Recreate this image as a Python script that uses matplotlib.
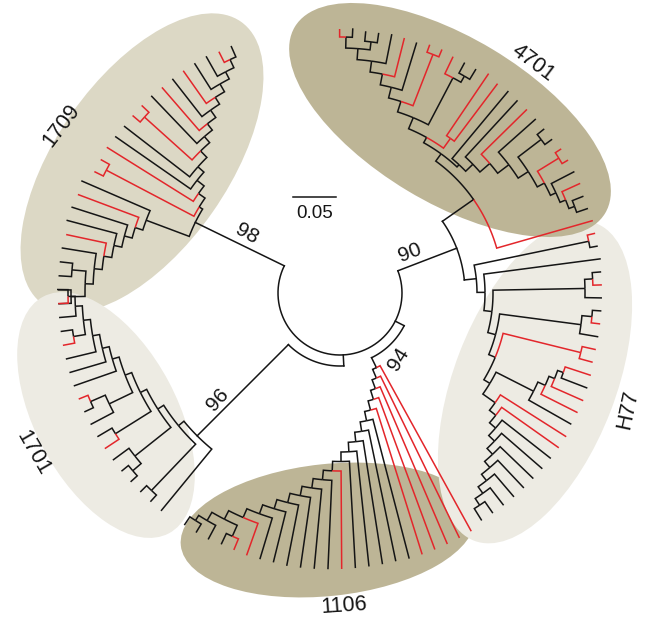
import numpy as np
import matplotlib.pyplot as plt
from matplotlib.patches import Ellipse

plt.rcParams['font.family'] = ['Liberation Sans', 'DejaVu Sans']

W, H = 645, 622
CENTER = (340, 329)        # centre of the circular tree on the canvas
RMAX = 300
STEP = 2.85                # degrees between neighbouring tips
RED, BLACK = '#e3262b', '#151515'
LW = 1.1

# branch lengths are in drawing units (1 unit = 1 px); the 0.05 bar is 43 units
BAR_UNITS = 43
BAR_TEXT = "0.05"


def ladder(rungs, steps, deeper_first=True):
    """Caterpillar subtree: rungs hang off the spine from its base outwards,
    the last two share the outermost node; steps are the spine internodes."""
    a, b = rungs[-1], rungs[-2]
    node = f"({a},{b})" if deeper_first else f"({b},{a})"
    for rung, step in zip(rungs[-3::-1], steps[::-1]):
        node = f"({node}:{step},{rung})" if deeper_first else f"({rung},{node}:{step})"
    return node


# ---- clade 1709
up_1709 = ladder(["(r:10,r:10):99", "r:102", "k:92", "k:83", "(r:10,r:10):64", "k:66",
                  "r:57", "k:48", "r:40", "k:31", "k:23", "r:12", "k:12"],
                 [8, 9, 8, 9, 8, 8, 9, 8, 9, 8, 9])
low_1709 = ladder(["k:75", "r:65", "k:59", "k:52", "r:41", "k:35",
                   "(k:13,k:13):14", "(k:13,k:13):14"],
                  [8, 8, 8, 8, 8, 8], deeper_first=False)
tree_1709 = f"({up_1709}:4,{low_1709}:46)"

# ---- clade 1701
tree_1701 = ladder(["k:80", "(k:9,k:9):64", "(k:20,(k:9,k:9):11):46", "(k:17,r:17):42",
                    "((r:10,k:10):16,k:26):26", "k:45", "k:38", "k:31", "(k:12,r:12):12",
                    "k:17", "r:10", "k:11"],
                   [7, 7, 7, 7, 7, 7, 7, 7, 7, 7])

# ---- clade 1106
tree_1106 = ladder(["r:189", "r:180", "r:171", "r:162", "r:153", "k:144", "k:134", "k:125",
                    "k:116", "k:107", "r:98", "k:89", "k:80", "k:71", "k:62", "k:52", "k:43",
                    "r:34", "(k:12,r:12):12", "k:16", "(k:10,k:10):6"],
                   [9.5, 9.5, 9.5, 9.5, 9.5, 9.5, 9.5, 9.5, 9.5, 9.5,
                    9.5, 9.5, 9.5, 9.5, 9.5, 9.5, 9.5, 9.5, 9.5])

# ---- clade H77
sub_h77 = ladder(["k:49", "r:41", "r:35", "k:28", "r:27"], [8, 6, 6], deeper_first=False)
low_h77 = ladder(["r:78", "r:70", "k:62", "k:54", "k:46", "k:38", "k:30", "k:22", "k:14", "k:14"],
                 [8, 8, 8, 8, 8, 8, 8, 8])
tree_h77 = ladder(["(k:8,r:8):117", "k:118", "(k:17,(r:9,k:9):8):92",
                   "(k:19,(r:9,k:9):10):82", "(r:14,r:14):80",
                   f"{sub_h77}:42", f"{low_h77}:15"],
                  [8, 8, 8, 7, 7])

# ---- clade 4701
right_4701 = ladder(["k:88", "k:77", "r:64", "k:50", "(k:9,k:9):29", "(r:7,r:7):25",
                     "k:26", "r:20", "k:12", "k:12"],
                    [10, 13, 14, 12, 8, 6, 6, 6])
left_4701 = ladder(["(r:72,r:75):12", "((k:12,k:12):7,r:19):53", "(r:8,r:8):55", "k:50",
                    "r:40", "k:30", "(k:10,k:10):8", "k:9", "r:8"],
                   [12, 11, 11, 11, 11, 11, 11], deeper_first=False)
tree_4701 = f"(r:100,({right_4701}:3,{left_4701}:6):9)"

# ---- backbone near the root
ROOT_R = 62
ROOT_ARC = (154, 381)
HUB_NAMES = ["A", "B", "D"]
HUB_ANGLE = [273, 333, 21]
HUB_R = [73, 72, 125]
HUB_ARC = [(225, 273), (296, 333), (6, 35)]

CLADE_TREES = [tree_1709, tree_1701, tree_1106, tree_h77, tree_4701]
CLADE_PARENT = ["root", "A", "B", "D", "D"]
CLADE_ANGLE = [154, 225, 296, 6, 35]
CLADE_ROOT_R = [161, 202, 83, 137, 163]

# highlight ellipses: centre, width, height, angle, colour
CLADE_NAMES = ["1709", "1701", "1106", "H77", "4701"]
ELL_XY = [(142, 459), (106, 207), (328, 92), (535, 240), (450, 502)]
ELL_WH = [(345, 172), (268, 142), (296, 132), (340, 162), (362, 165)]
ELL_ANG = [55, -62, 6, 69, -31]
ELL_COL = ['#dcd8c5', '#edebe3', '#bdb596', '#edebe3', '#bdb596']
NAME_XY = [(61, 496), (33, 169), (344, 16), (628, 212), (533, 559)]
NAME_ROT = [53, -60, 4, 78, -37]

SUPPORT = ["98", "96", "94", "90"]
SUPPORT_XY = [(247, 388), (218, 222), (398, 263), (410, 369)]
SUPPORT_ROT = [-29, 48, 58, 21]


def parse(s):
    pos = 0

    def node():
        nonlocal pos
        n = {'kids': [], 'len': 0.0, 'label': ''}
        if s[pos] == '(':
            pos += 1
            n['kids'].append(node())
            while s[pos] == ',':
                pos += 1
                n['kids'].append(node())
            pos += 1
        start = pos
        while pos < len(s) and s[pos] not in ':,)':
            pos += 1
        n['label'] = s[start:pos]
        if pos < len(s) and s[pos] == ':':
            pos += 1
            start = pos
            while pos < len(s) and s[pos] not in ',)':
                pos += 1
            n['len'] = float(s[start:pos])
        return n

    return node()


def place(n, r, counter):
    n['r'] = r
    if not n['kids']:
        n['slot'] = counter[0]
        counter[0] += 1
        n['red'] = n['label'] == 'r'
        return
    for k in n['kids']:
        place(k, r + k['len'], counter)
    n['slot'] = (n['kids'][0]['slot'] + n['kids'][-1]['slot']) / 2
    n['red'] = all(k['red'] for k in n['kids'])


def set_angle(n, offset):
    n['th'] = offset + n['slot'] * STEP
    for k in n['kids']:
        set_angle(k, offset)


def arc(th0, th1, r):
    num = max(2, int(abs(th1 - th0) / 0.5) + 2)
    t = np.linspace(th0, th1, num)
    return np.radians(t), np.full(num, float(r))


def draw(ax, n):
    for k in n['kids']:
        t, rr = arc(n['th'], k['th'], n['r'])
        t = np.append(t, np.radians(k['th']))
        rr = np.append(rr, k['r'])
        ax.plot(t, rr, color=RED if k['red'] else BLACK, lw=LW,
                solid_joinstyle='miter', solid_capstyle='butt')
        draw(ax, k)


fig = plt.figure(figsize=(W / 100, H / 100), dpi=100)
bg = fig.add_axes([0, 0, 1, 1])
bg.set_xlim(0, W)
bg.set_ylim(0, H)
bg.axis('off')

for xy, wh, ang, col in zip(ELL_XY, ELL_WH, ELL_ANG, ELL_COL):
    bg.add_patch(Ellipse(xy, wh[0], wh[1], angle=ang, facecolor=col,
                         edgecolor='none', zorder=0))

for name, xy, rot in zip(CLADE_NAMES, NAME_XY, NAME_ROT):
    bg.text(xy[0], xy[1], name, rotation=rot, rotation_mode='anchor',
            ha='center', va='center', fontsize=15.5, color=BLACK)
for lab, xy, rot in zip(SUPPORT, SUPPORT_XY, SUPPORT_ROT):
    bg.text(xy[0], xy[1], lab, rotation=rot, rotation_mode='anchor',
            ha='center', va='center', fontsize=15, color=BLACK)

# scale bar
bg.plot([293, 293 + BAR_UNITS], [425, 425], color=BLACK, lw=LW)
bg.text(293 + BAR_UNITS / 2, 409, BAR_TEXT, ha='center', va='center',
        fontsize=13.5, color=BLACK)

pax = fig.add_axes([(CENTER[0] - RMAX) / W, (CENTER[1] - RMAX) / H,
                    2 * RMAX / W, 2 * RMAX / H], projection='polar')
pax.set_ylim(0, RMAX)
pax.axis('off')
pax.patch.set_visible(False)

# root arc and the short internal hubs
t, rr = arc(*ROOT_ARC, ROOT_R)
pax.plot(t, rr, color=BLACK, lw=LW)
hub_r = {"root": ROOT_R}
for name, ang, r, span in zip(HUB_NAMES, HUB_ANGLE, HUB_R, HUB_ARC):
    pax.plot(np.radians([ang, ang]), [ROOT_R, r], color=BLACK, lw=LW)
    t, rr = arc(span[0], span[1], r)
    pax.plot(t, rr, color=BLACK, lw=LW)
    hub_r[name] = r

for newick, parent, ang, r0 in zip(CLADE_TREES, CLADE_PARENT, CLADE_ANGLE, CLADE_ROOT_R):
    tree = parse(newick)
    place(tree, r0, [0])
    set_angle(tree, ang - tree['slot'] * STEP)
    pax.plot(np.radians([ang, ang]), [hub_r[parent], r0], color=BLACK, lw=LW)
    draw(pax, tree)

fig.savefig("out.png", dpi=100)
